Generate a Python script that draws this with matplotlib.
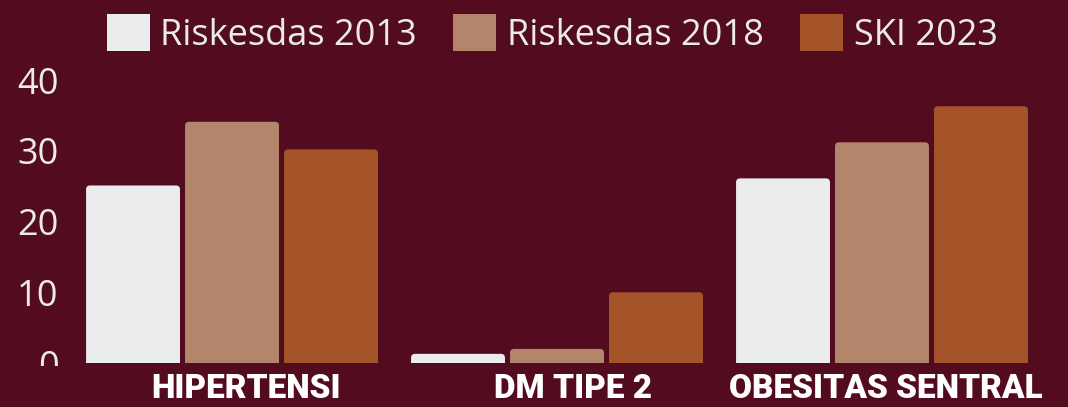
import matplotlib
matplotlib.use("Agg")
import matplotlib.pyplot as plt
import numpy as np
from matplotlib.patches import FancyBboxPatch, Patch, Rectangle

categories = ["HIPERTENSI", "DM TIPE 2", "OBESITAS SENTRAL"]
series_names = ["Riskesdas 2013", "Riskesdas 2018", "SKI 2023"]
riskesdas_2013 = [25.1, 1.3, 26.1]
riskesdas_2018 = [34.1, 2.0, 31.2]
ski_2023 = [30.2, 10.0, 36.3]
yticks = [0, 10, 20, 30, 40]

bg = "#530B1F"
colors = ["#EBECEE", "#B3866B", "#A5542A"]
txt = "#EBEBEB"

fig = plt.figure(figsize=(10.68, 4.07), dpi=100, facecolor=bg)
ax = fig.add_axes([0.0651, 0.108, 0.9129, 0.6953])
ax.set_facecolor(bg)

x = np.arange(len(categories))
step = 0.3046
width = 0.289
ax.set_xlim(-0.5, 2.5)
ax.set_ylim(0, 40)

# px per data unit, for rounded top corners
px_x = 0.9129 * 1068 / 3.0
px_y = 0.6953 * 407 / 40.0
aspect = px_x / px_y
r = 4.0 / px_x

for i, vals in enumerate([riskesdas_2013, riskesdas_2018, ski_2023]):
    for xi, v in zip(x, vals):
        left = xi + (i - 1) * step - width / 2
        p = FancyBboxPatch((left, -2), width, v + 2,
                           boxstyle="round,pad=0,rounding_size=%f" % r,
                           mutation_aspect=aspect, facecolor=colors[i],
                           edgecolor="none")
        ax.add_patch(p)

for s in ax.spines.values():
    s.set_visible(False)
ax.set_yticks(yticks)
ax.tick_params(axis="y", length=0, pad=8, labelsize=26, labelcolor=txt)
# labels sit a bit right of the group centres in the original
label_shift = np.array([0.043, 0.049, 0.012])
ax.set_xticks(x + label_shift)
ax.set_xticklabels(categories, fontsize=24, fontweight="black", color="white",
                   family="Roboto")
ax.tick_params(axis="x", length=0, pad=7)
for lbl in ax.get_yticklabels():
    lbl.set_family("Open Sans")

# the "0" is cut off at the bottom in the original
fig.patches.append(Rectangle((0, 0), 0.065, 1 - 366 / 407.0, transform=fig.transFigure,
                             facecolor=bg, edgecolor="none", zorder=10))

handles = [Patch(facecolor=c, edgecolor="none") for c in colors]
fig.legend(handles, series_names, loc="upper center", bbox_to_anchor=(0.517, 1.045),
           ncol=3, frameon=False, labelcolor=txt,
           handlelength=1.19, handleheight=1.19, handletextpad=0.3, columnspacing=1.0,
           prop={"family": "Open Sans", "size": 26})

fig.savefig("out.png", dpi=100, facecolor=bg)
